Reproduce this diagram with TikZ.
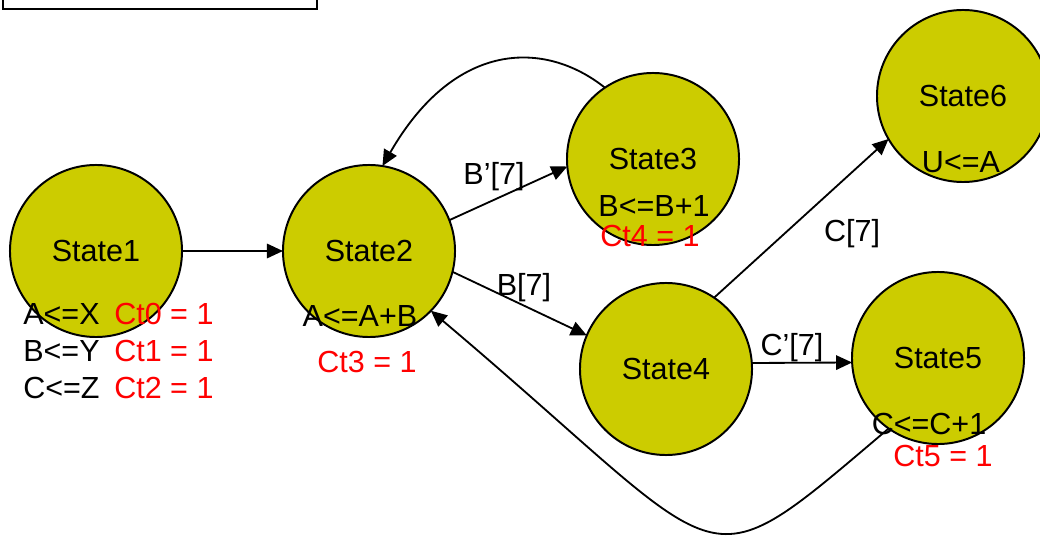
\documentclass[tikz,border=0pt]{standalone}
\usepackage{fontspec}
\setmainfont{Liberation Sans}
\usepackage{tikz}
\usepackage{tkz-graph}
\usetikzlibrary{shapes,arrows.meta}

\definecolor{statefill}{RGB}{204,204,0}
\tikzset{
  acts/.style={font=\fontsize{21.7}{26}\selectfont, inner sep=0pt, anchor=base},
  cnts/.style={acts, text=red},
  elabel/.style={acts},
}

\begin{document}
\begin{tikzpicture}[x=0.025cm, y=-0.025cm]
        \useasboundingbox (0,0) rectangle (1040,537);
        \clip (0,0) rectangle (1040,537);
        \GraphInit[vstyle=normal]
        \tikzset{
          VertexStyle/.style={circle, draw, line width=1.4pt, fill=statefill,
            minimum size=4.3cm, inner sep=0pt, font=\fontsize{21.7}{26}\selectfont},
          EdgeStyle/.style={line width=1.3pt, -{Triangle[length=0.4cm,width=0.36cm]}}}
        % empty box, top left
        \draw[line width=1.4pt] (3,-20) rectangle (317,9);
        % states
        \Vertex[x=96,y=251,L=State1]{s1}
        \Vertex[x=369,y=251,L=State2]{s2}
        \Vertex[x=653,y=159,L=State3]{s3}
        \Vertex[x=666,y=369,L=State4]{s4}
        \Vertex[x=938,y=358,L=State5]{s5}
        \Vertex[x=963,y=96,L=State6]{s6}
        % transitions
        \Edge(s1)(s2)
        \draw[EdgeStyle] (s2.21) -- (s3.185);
        \draw[EdgeStyle] (s2.-14) -- (s4.157);
        \draw[EdgeStyle] (s4.4) -- (s5.183);
        \draw[EdgeStyle] (s4.56.5) -- (s6.210);
        \draw[EdgeStyle] (s3.124) .. controls (545,40) and (455,40) .. (s2.81);
        \draw[EdgeStyle] (s5.235) .. controls (693,594) and (738,570) .. (s2.-44.5);
        % conditions
        \node[elabel] (lbBn) at (494,185) {B’[7]};
        \node[elabel] (lbB) at (524,296) {B[7]};
        \node[elabel] (lbCn) at (792,356) {C’[7]};
        \node[elabel] (lbC) at (852,242) {C[7]};
        % actions of each state
        \node[acts, align=left, anchor=north west] (a1) at (23,303) {A<=X\\[0.3pt]B<=Y\\[0.3pt]C<=Z};
        \node[cnts, align=left, anchor=north west] (c1) at (114,303) {Ct0 = 1\\[0.3pt]Ct1 = 1\\[0.3pt]Ct2 = 1};
        \node[acts] (a2) at (360,327) {A<=A+B};
        \node[cnts] (c2) at (367,372) {Ct3 = 1};
        \node[acts] (a3) at (654,217) {B<=B+1};
        \node[cnts] (c3) at (650,247) {Ct4 = 1};
        \node[acts] (a5) at (929,435) {C<=C+1};
        \node[cnts] (c5) at (943,466) {Ct5 = 1};
        \node[acts] (a6) at (961,173) {U<=A};
\end{tikzpicture}
\end{document}
